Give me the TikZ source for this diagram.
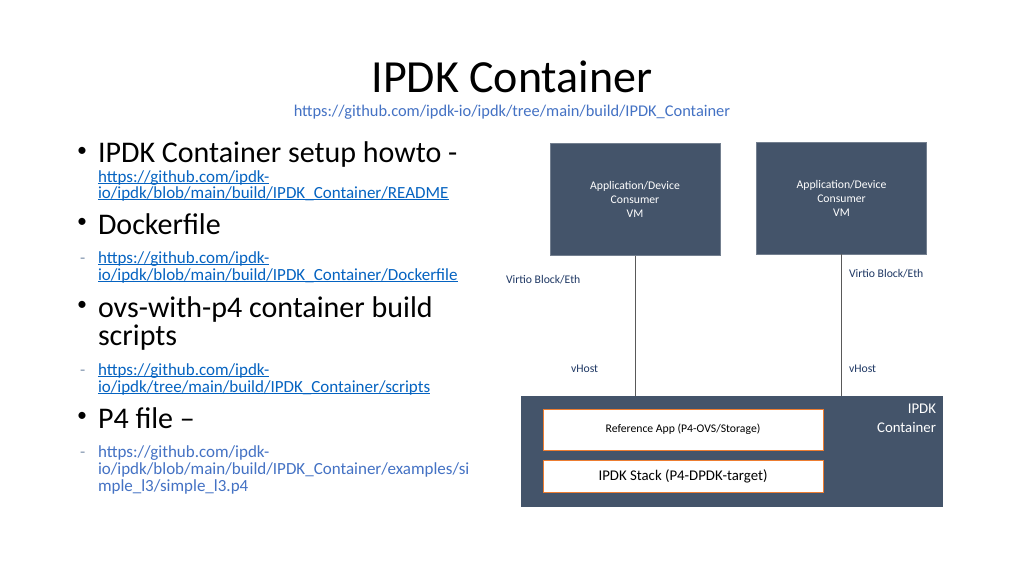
\documentclass[tikz,border=0pt]{standalone}
\usepackage{fontspec}
\setmainfont{Carlito}
\definecolor{IPSlate}{HTML}{44546A}
\definecolor{IPNavy}{HTML}{1F3864}
\definecolor{IPOrange}{HTML}{ED7D31}
\definecolor{IPLink}{HTML}{0563C1}
\definecolor{IPBlue}{HTML}{4472C4}
\definecolor{IPDash}{HTML}{8497B0}
\definecolor{IPLine}{HTML}{595959}
\usetikzlibrary{positioning}
% underlined link text, rule just under the baseline
\newcommand{\lnk}[1]{\setbox0\hbox{#1}\rlap{\rule[-2.2pt]{\wd0}{0.8pt}}\box0}

\begin{document}
\begin{tikzpicture}[x=1pt, y=-1pt,
    every node/.style={inner sep=0pt, outer sep=0pt},
    head/.style={anchor=base west, font=\fontsize{30}{30}\selectfont},
    url/.style={anchor=base west, text=IPLink, font=\fontsize{17}{17}\selectfont},
    bul/.style={anchor=base west, font=\fontsize{20}{20}\selectfont},
    dsh/.style={anchor=base west, text=IPDash, font=\fontsize{17}{17}\selectfont},
    vm/.style={rectangle, fill=IPSlate, draw=IPSlate!75!white, line width=0.6pt,
      minimum width=170pt, minimum height=112pt, text=white, align=center,
      font=\fontsize{11.7}{14}\selectfont},
    tag/.style={anchor=base west, text=IPNavy, font=\fontsize{11.7}{14}\selectfont},
    layer/.style={rectangle, fill=white, draw=IPOrange, line width=1pt,
      minimum width=280pt, minimum height=#1, text=black}]
    \useasboundingbox[fill=white] (0,0) rectangle (1024,576);

    % title
    \node[anchor=base, font=\fontsize{46}{46}\selectfont] (title) at (512,92) {IPDK Container};
    \node[anchor=base, text=IPBlue, font=\fontsize{16.4}{16.4}\selectfont] (sub) at (512,116)
      {https://github.com/ipdk-io/ipdk/tree/main/build/IPDK\_Container};

    % left column
    \node[bul] (b1) at (77,156) {•};
    \node[head] (h1) at (98,162) {IPDK Container setup howto -};
    \node[url] (u1a) at (98,182) {\lnk{https://github.com/ipdk-}};
    \node[url] (u1b) at (98,198) {\lnk{io/ipdk/blob/main/build/IPDK\_Container/README}};
    \node[bul] (b2) at (77,227) {•};
    \node[head] (h2) at (98,234) {Dockerfile};
    \node[dsh] (d2) at (80,263) {-};
    \node[url] (u2a) at (98,263) {\lnk{https://github.com/ipdk-}};
    \node[url] (u2b) at (98,280) {\lnk{io/ipdk/blob/main/build/IPDK\_Container/Dockerfile}};
    \node[bul] (b3) at (77,310) {•};
    \node[head] (h3) at (98,317) {ovs-with-p4 container build};
    \node[head] (h3b) at (98,345) {scripts};
    \node[dsh] (d3) at (80,375) {-};
    \node[url] (u3a) at (98,375) {\lnk{https://github.com/ipdk-}};
    \node[url] (u3b) at (98,392) {\lnk{io/ipdk/tree/main/build/IPDK\_Container/scripts}};
    \node[bul] (b4) at (77,421) {•};
    \node[head] (h4) at (98,428) {P4 file –};
    \node[dsh] (d4) at (80,457) {-};
    \node[url, text=IPBlue] (u4a) at (98,457) {https://github.com/ipdk-};
    \node[url, text=IPBlue] (u4b) at (98,474) {io/ipdk/blob/main/build/IPDK\_Container/examples/si};
    \node[url, text=IPBlue] (u4c) at (98,491) {mple\_l3/simple\_l3.p4};

    % right diagram
    \node[vm] (vm1) at (635,199.5) {Application/Device\\Consumer\\VM};
    \node[vm] (vm2) at (841.5,198) {Application/Device\\Consumer\\VM};
    \node[rectangle, fill=IPSlate, minimum width=422pt, minimum height=111pt] (ctr) at (732,451.5) {};
    \node[anchor=north east, align=right, text=white, font=\fontsize{14.8}{19}\selectfont] (ctrlbl)
      at (936,404) {IPDK\\Container};
    \node[layer=41pt, font=\fontsize{11.7}{14}\selectfont] (app) at (683,429.5) {Reference App (P4-OVS/Storage)};
    \node[layer=32pt, font=\fontsize{14.8}{17}\selectfont] (stack) at (683,476) {IPDK Stack (P4-DPDK-target)};

    \draw[IPLine, line width=0.8pt] (vm1.south) -- (vm1.south |- ctr.north);
    \draw[IPLine, line width=0.8pt] (vm2.south) -- (vm2.south |- ctr.north);

    \node[tag] (virt1) at (506,283) {Virtio Block/Eth};
    \node[tag] (virt2) at (849,277) {Virtio Block/Eth};
    \node[tag] (vh1) at (571,372) {vHost};
    \node[tag] (vh2) at (849,372) {vHost};
\end{tikzpicture}
\end{document}
